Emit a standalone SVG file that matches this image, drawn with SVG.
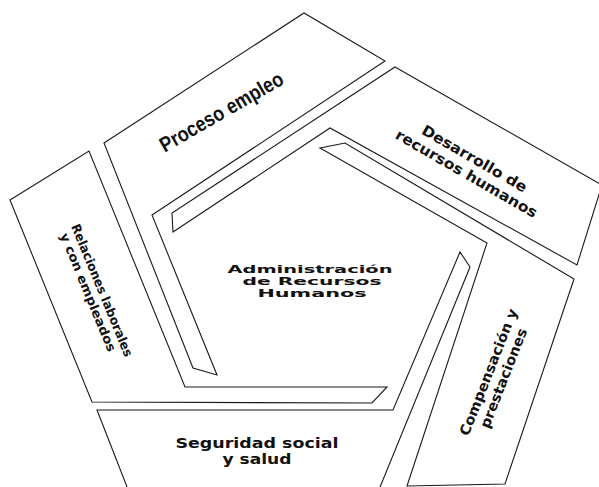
<svg xmlns="http://www.w3.org/2000/svg" width="599" height="487" viewBox="0 0 599 487">
<style>
.shape{fill:#fff;stroke:#1a1a1a;stroke-width:1.1;stroke-linejoin:miter}
.t{font-family:"DejaVu Sans","Liberation Sans",sans-serif;fill:#111;font-weight:bold;text-anchor:middle}
.p{font-family:"Liberation Sans","DejaVu Sans",sans-serif;fill:#111;font-weight:bold;text-anchor:middle}
</style>
<rect width="599" height="487" fill="#fff"/>
<g id="proceso-empleo">
<polygon class="shape" points="104,143 304,13 385,61 152,215 217,375 193,368"/>
<text class="p" font-size="21" textLength="139" lengthAdjust="spacingAndGlyphs" transform="translate(225,118) rotate(-30)">Proceso empleo</text>
</g>
<g id="desarrollo-recursos-humanos">
<polygon class="shape" points="395,67 602,185 577,265 330,128 173,232 172,213"/>
<text class="t" font-size="14.5" textLength="119" lengthAdjust="spacingAndGlyphs" transform="translate(472,163) rotate(30)">Desarrollo de</text>
<text class="t" font-size="14.5" textLength="161" lengthAdjust="spacingAndGlyphs" transform="translate(464,178) rotate(30)">recursos humanos</text>
</g>
<g id="relaciones-laborales">
<polygon class="shape" points="10,200 89,151 185,387 387,387 372,403 92,402"/>
<text class="t" font-size="12.5" textLength="142" lengthAdjust="spacingAndGlyphs" transform="translate(98,292) rotate(67.6)">Relaciones laborales</text>
<text class="t" font-size="12.5" textLength="127" lengthAdjust="spacingAndGlyphs" transform="translate(84,294) rotate(67.6)">y con empleados</text>
</g>
<g id="seguridad-social">
<polygon class="shape" points="97,410 393,410 460,252 470,267 378,492 129,492"/>
<text class="t" font-size="13.5" textLength="163" lengthAdjust="spacingAndGlyphs" x="257" y="448">Seguridad social</text>
<text class="t" font-size="13.5" textLength="69" lengthAdjust="spacingAndGlyphs" x="257" y="464">y salud</text>
</g>
<g id="compensacion-prestaciones">
<polygon class="shape" points="574,279 505,484 407,486 487,243 320,148 345,143"/>
<text class="t" font-size="14" textLength="135" lengthAdjust="spacingAndGlyphs" transform="translate(493,374) rotate(-68.6)">Compensación y</text>
<text class="t" font-size="14" textLength="106" lengthAdjust="spacingAndGlyphs" transform="translate(508,380) rotate(-68.6)">prestaciones</text>
</g>
<g id="administracion-recursos-humanos">
<text class="t" font-size="10.5" textLength="165" lengthAdjust="spacingAndGlyphs" x="310" y="273">Administración</text>
<text class="t" font-size="10.5" textLength="139" lengthAdjust="spacingAndGlyphs" x="312" y="285">de Recursos</text>
<text class="t" font-size="10.5" font-weight="normal" textLength="109" lengthAdjust="spacingAndGlyphs" x="312" y="297">Humanos</text>
</g>
</svg>
